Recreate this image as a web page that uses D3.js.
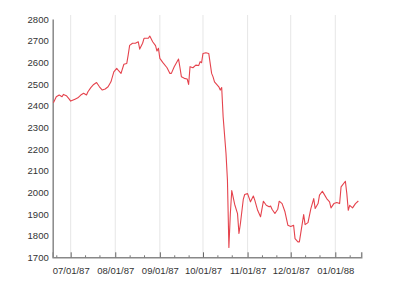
<!DOCTYPE html>
<html><head><meta charset="utf-8">
<script src="https://cdn.jsdelivr.net/npm/d3@7"></script>
<style>body{margin:0;background:#fff}svg{display:block}text{font-family:"Liberation Sans",Arial,sans-serif}</style>
</head><body><svg id="c" width="395" height="284"></svg>
<script>
const dates = ["1987-06-19","1987-06-21","1987-06-23","1987-06-25","1987-06-26","1987-06-28","1987-06-30","1987-07-01","1987-07-04","1987-07-06","1987-07-08","1987-07-10","1987-07-12","1987-07-13","1987-07-15","1987-07-17","1987-07-19","1987-07-21","1987-07-23","1987-07-25","1987-07-27","1987-07-29","1987-07-31","1987-08-02","1987-08-03","1987-08-05","1987-08-07","1987-08-09","1987-08-10","1987-08-11","1987-08-13","1987-08-15","1987-08-17","1987-08-18","1987-08-20","1987-08-21","1987-08-24","1987-08-25","1987-08-27","1987-08-29","1987-08-30","1987-08-31","1987-09-01","1987-09-03","1987-09-06","1987-09-08","1987-09-09","1987-09-11","1987-09-14","1987-09-15","1987-09-16","1987-09-18","1987-09-20","1987-09-21","1987-09-22","1987-09-24","1987-09-26","1987-09-28","1987-09-29","1987-09-30","1987-10-01","1987-10-03","1987-10-05","1987-10-06","1987-10-07","1987-10-08","1987-10-09","1987-10-12","1987-10-13","1987-10-14","1987-10-15","1987-10-17","1987-10-18","1987-10-19","1987-10-20","1987-10-21","1987-10-23","1987-10-25","1987-10-26","1987-10-27","1987-10-29","1987-10-30","1987-11-01","1987-11-03","1987-11-05","1987-11-06","1987-11-08","1987-11-10","1987-11-12","1987-11-14","1987-11-16","1987-11-17","1987-11-18","1987-11-20","1987-11-22","1987-11-23","1987-11-25","1987-11-27","1987-11-29","1987-12-01","1987-12-03","1987-12-04","1987-12-06","1987-12-07","1987-12-10","1987-12-11","1987-12-13","1987-12-15","1987-12-17","1987-12-18","1987-12-20","1987-12-21","1987-12-23","1987-12-24","1987-12-26","1987-12-28","1987-12-29","1987-12-31","1988-01-02","1988-01-04","1988-01-05","1988-01-08","1988-01-09","1988-01-10","1988-01-11","1988-01-13","1988-01-15","1988-01-17"];
const values = [2413,2441,2449,2441,2452,2446,2430,2421,2430,2436,2449,2457,2449,2464,2483,2498,2507,2487,2472,2477,2487,2510,2556,2572,2564,2549,2591,2595,2634,2678,2688,2688,2695,2661,2688,2711,2711,2721,2695,2677,2652,2665,2618,2600,2575,2549,2549,2580,2615,2575,2533,2526,2523,2498,2580,2575,2587,2585,2603,2598,2641,2644,2641,2595,2549,2533,2510,2487,2472,2484,2349,2179,2056,1745,1900,2008,1945,1902,1810,1855,1967,1990,1994,1956,1983,1964,1917,1887,1959,1940,1933,1937,1922,1902,1922,1959,1948,1910,1848,1842,1848,1786,1771,1771,1897,1851,1860,1925,1971,1925,1948,1987,2005,1994,1971,1956,1928,1948,1953,1948,2025,2051,1994,1917,1940,1928,1948,1960];
const yTicks = [1700,1800,1900,2000,2100,2200,2300,2400,2500,2600,2700,2800];
const monthTicks = ["1987-07-01","1987-08-01","1987-09-01","1987-10-01","1987-11-01","1987-12-01","1988-01-01"];
const minorTicks = ["1987-06-21","1987-07-11","1987-07-21","1987-08-11","1987-08-21","1987-09-11","1987-09-21","1987-10-11","1987-10-21","1987-11-11","1987-11-21","1987-12-11","1987-12-21","1988-01-11"];

const parse = d3.timeParse("%Y-%m-%d");
const fmt = d3.timeFormat("%m/%d/%y");
const data = dates.map((d,i)=>({date:parse(d), v:values[i]}));
const svg = d3.select("#c");
const x = d3.scaleTime().domain([new Date(1987,5,18,12), new Date(1988,0,19)]).range([52.7, 361.2]);
const y = d3.scaleLinear().domain([1700,2800]).range([257.3, 19]);

// gridlines
svg.append("g").selectAll("line").data(monthTicks.map(parse)).join("line")
  .attr("x1",d=>x(d)).attr("x2",d=>x(d)).attr("y1",15).attr("y2",y(1700))
  .attr("stroke","#e6e6e6").attr("stroke-width",1);

// y axis
const ya = svg.append("g").attr("transform",`translate(${x.range()[0]},0)`)
  .call(d3.axisLeft(y).tickValues(yTicks).tickSize(0).tickPadding(4).tickFormat(d3.format("d")));
ya.select(".domain").attr("stroke","#888").attr("stroke-width",1.5);
ya.selectAll("text").attr("font-size",9.5).attr("fill","#333").attr("font-family","Liberation Sans, Arial, sans-serif");

// x axis
const xa = svg.append("g").attr("transform",`translate(0,${y(1700)})`)
  .call(d3.axisBottom(x).tickValues(monthTicks.map(parse)).tickSize(-5).tickPadding(10).tickFormat(fmt));
xa.select(".domain").attr("stroke","#888").attr("stroke-width",1.5);
xa.selectAll(".tick line").attr("stroke","#666");
xa.selectAll("text").attr("font-size",9.5).attr("fill","#333").attr("font-family","Liberation Sans, Arial, sans-serif");
svg.append("g").attr("transform",`translate(0,${y(1700)})`)
  .call(d3.axisBottom(x).tickValues(minorTicks.map(parse)).tickSize(-2).tickFormat(""))
  .call(g=>g.select(".domain").remove())
  .selectAll("line").attr("stroke","#777");

// line
svg.append("path").datum(data)
  .attr("fill","none").attr("stroke","#e5434d").attr("stroke-width",1.1).attr("stroke-linejoin","round")
  .attr("d", d3.line().x(d=>x(d.date)).y(d=>y(d.v)));
</script></body></html>
